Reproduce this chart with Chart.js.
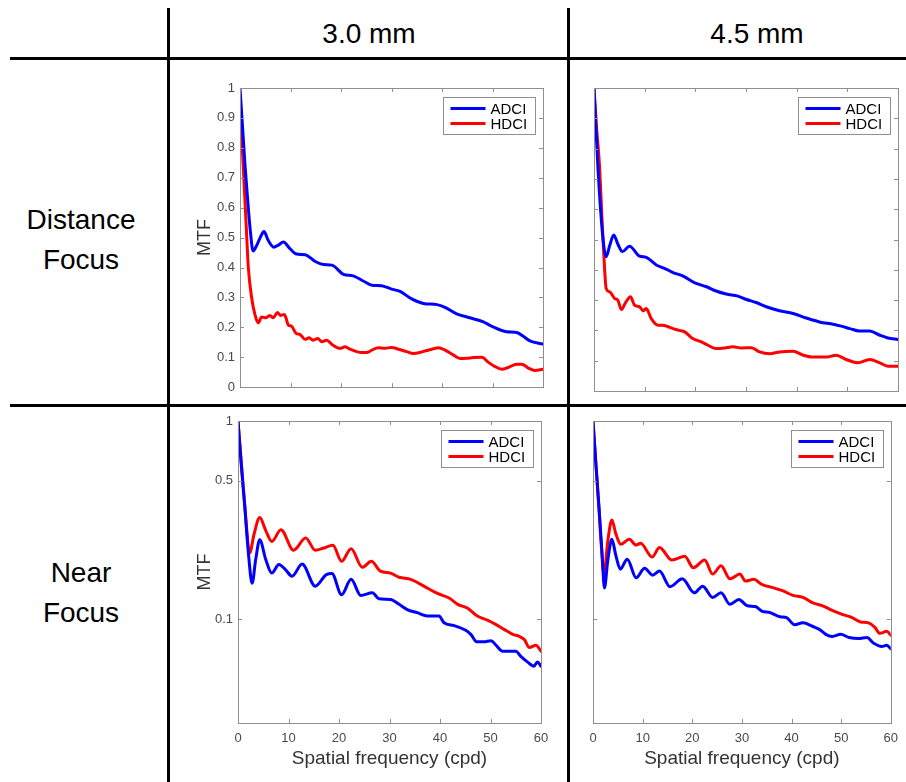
<!DOCTYPE html>
<html>
<head>
<meta charset="utf-8">
<script src="https://cdn.jsdelivr.net/npm/chart.js@4.4.0/dist/chart.umd.min.js"></script>
<style>
body { margin: 0; background: #fff; width: 906px; height: 782px; position: relative; overflow: hidden;
       font-family: "Liberation Sans", Arial, sans-serif; }
.rule { position: absolute; background: #000; }
.lbl { position: absolute; color: #000; text-align: center; font-size: 28px; line-height: 40px; }
canvas { position: absolute; }
</style>
</head>
<body>
<!-- table grid -->
<div class="rule" style="left:167px;top:8px;width:3px;height:774px"></div>
<div class="rule" style="left:567px;top:8px;width:3px;height:774px"></div>
<div class="rule" style="left:10px;top:57px;width:896px;height:3px"></div>
<div class="rule" style="left:10px;top:404px;width:896px;height:3px"></div>

<div class="lbl" style="left:170px;top:14px;width:398px">3.0 mm</div>
<div class="lbl" style="left:570px;top:14px;width:374px">4.5 mm</div>
<div class="lbl" style="left:0;top:200px;width:162px">Distance<br>Focus</div>
<div class="lbl" style="left:0;top:553px;width:162px">Near<br>Focus</div>

<canvas id="dist30" width="390" height="338" style="left:170px;top:62px"></canvas>
<canvas id="dist45" width="334" height="338" style="left:572px;top:62px"></canvas>
<canvas id="near30" width="390" height="374" style="left:170px;top:408px"></canvas>
<canvas id="near45" width="334" height="374" style="left:572px;top:408px"></canvas>

<script>
// ---- data ----
const SERIES = ['ADCI', 'HDCI'];
const X_TICKS = [0, 10, 20, 30, 40, 50, 60];
const LIN_TICKS = [0, 0.1, 0.2, 0.3, 0.4, 0.5, 0.6, 0.7, 0.8, 0.9, 1];
const LOG_TICKS = [0.1, 0.5, 1];

// Distance focus, 3.0 mm
const D30_ADCI_X = [0, 0.5, 1, 1.5, 2, 2.6, 3.2, 4, 4.75, 5.6, 6.7, 7.6, 8.6, 9.8, 11.2, 12.9, 14.9, 16.5, 18.2, 20.5, 22.4, 24.4, 26.1, 28, 30, 31.7, 34, 36.3, 39, 40.6, 42.9, 45.5, 48.2, 49.8, 52.8, 54.8, 56.1, 57.4, 60];
const D30_ADCI_Y = [1.0, 0.87, 0.74, 0.63, 0.53, 0.455, 0.47, 0.50, 0.52, 0.49, 0.468, 0.475, 0.485, 0.465, 0.445, 0.443, 0.42, 0.41, 0.408, 0.377, 0.372, 0.355, 0.341, 0.339, 0.328, 0.32, 0.295, 0.28, 0.276, 0.267, 0.245, 0.232, 0.218, 0.204, 0.185, 0.183, 0.17, 0.155, 0.144];
const D30_HDCI_X = [0, 0.66, 1.2, 1.65, 2.3, 3, 3.6, 4.3, 5.1, 5.9, 6.6, 7.4, 8, 8.8, 9.6, 10.2, 11.1, 11.9, 12.9, 13.7, 14.5, 15.4, 16.2, 17.2, 18.2, 19.8, 20.8, 21.8, 23.1, 24.1, 25.1, 26.1, 27.4, 28.7, 30, 31.4, 33, 34.3, 35.6, 36.6, 38, 39.3, 40.6, 42.2, 43.6, 44.9, 46.2, 47.9, 49.2, 50.5, 51.8, 53.1, 54.8, 55.8, 57.1, 58.4, 60];
const D30_HDCI_Y = [0.95, 0.73, 0.55, 0.40, 0.30, 0.24, 0.215, 0.235, 0.232, 0.24, 0.232, 0.25, 0.24, 0.243, 0.207, 0.204, 0.18, 0.176, 0.16, 0.165, 0.157, 0.163, 0.152, 0.157, 0.143, 0.13, 0.135, 0.127, 0.119, 0.116, 0.116, 0.124, 0.132, 0.13, 0.133, 0.127, 0.119, 0.113, 0.116, 0.121, 0.127, 0.132, 0.124, 0.108, 0.096, 0.097, 0.099, 0.1, 0.083, 0.069, 0.06, 0.066, 0.077, 0.077, 0.064, 0.056, 0.06];

// Distance focus, 4.5 mm
const D45_ADCI_X = [0, 0.8, 1.45, 2, 2.4, 3.1, 3.9, 4.7, 5.6, 7, 9, 10.3, 12.3, 13.9, 15.6, 17.6, 19.9, 22.2, 24.1, 26.1, 28.4, 30.1, 32, 34, 36.6, 39.3, 41.9, 44.5, 47.2, 48.8, 50.5, 52.4, 54.4, 56.4, 58, 60];
const D45_ADCI_Y = [1.0, 0.73, 0.565, 0.47, 0.443, 0.48, 0.515, 0.485, 0.46, 0.478, 0.445, 0.441, 0.416, 0.405, 0.391, 0.379, 0.357, 0.344, 0.33, 0.32, 0.313, 0.302, 0.292, 0.278, 0.265, 0.256, 0.241, 0.228, 0.22, 0.214, 0.206, 0.198, 0.198, 0.184, 0.175, 0.17];
const D45_HDCI_X = [0, 0.5, 1.1, 1.6, 2.1, 2.4, 3.1, 4.1, 4.7, 5.4, 6.2, 7.2, 8, 9, 9.7, 10.3, 11.3, 12.6, 13.6, 14.6, 15.6, 16.9, 17.9, 19.5, 21.2, 22.5, 24.1, 25.8, 27.4, 29.1, 31.1, 32.7, 34.7, 36.6, 39.3, 41.3, 43.2, 45.9, 47.8, 49.8, 52.1, 54.4, 56.4, 58, 60];
const D45_HDCI_Y = [1.0, 0.87, 0.74, 0.56, 0.40, 0.338, 0.327, 0.305, 0.3, 0.269, 0.291, 0.311, 0.283, 0.278, 0.265, 0.272, 0.239, 0.217, 0.217, 0.212, 0.206, 0.2, 0.195, 0.173, 0.162, 0.151, 0.14, 0.142, 0.146, 0.142, 0.143, 0.129, 0.123, 0.129, 0.131, 0.118, 0.112, 0.112, 0.118, 0.104, 0.093, 0.104, 0.093, 0.082, 0.082];

// Near focus, 3.0 mm (log axis)
const N30_ADCI_X = [0, 0.6, 1.3, 2.1, 2.8, 3.5, 4.3, 5.5, 6.7, 8.1, 9.4, 10.7, 12.7, 15.3, 17.5, 18.6, 20.5, 22.4, 24.3, 26.6, 27.9, 30.2, 31.9, 33.5, 35.5, 37.5, 39.8, 40.8, 42.8, 45.1, 46.1, 47.3, 48.7, 50.1, 51.1, 52.4, 53.7, 55, 56, 57.3, 58.6, 59.3, 60];
const N30_ADCI_Y = [1.0, 0.62, 0.38, 0.21, 0.152, 0.2, 0.252, 0.2, 0.171, 0.189, 0.178, 0.165, 0.19, 0.147, 0.168, 0.17, 0.133, 0.159, 0.132, 0.136, 0.127, 0.126, 0.119, 0.112, 0.108, 0.104, 0.104, 0.096, 0.093, 0.088, 0.084, 0.077, 0.077, 0.078, 0.074, 0.069, 0.069, 0.069, 0.065, 0.061, 0.058, 0.061, 0.058];
const N30_HDCI_X = [0, 0.7, 1.4, 2.3, 3.2, 4.3, 5.5, 6.7, 8.5, 11, 13.4, 15.3, 17, 18.8, 20.5, 22.4, 24.6, 26.4, 28.2, 30.2, 31.9, 34.2, 36.8, 39.5, 41.8, 43.5, 45.4, 47.4, 49.4, 51.1, 52.7, 54.4, 55.7, 56.7, 57.7, 59, 60];
const N30_HDCI_Y = [1.0, 0.6, 0.36, 0.216, 0.27, 0.326, 0.28, 0.247, 0.283, 0.223, 0.257, 0.223, 0.229, 0.236, 0.196, 0.227, 0.183, 0.196, 0.175, 0.171, 0.163, 0.159, 0.147, 0.135, 0.128, 0.119, 0.114, 0.104, 0.099, 0.094, 0.089, 0.084, 0.082, 0.079, 0.072, 0.074, 0.069];

// Near focus, 4.5 mm (log axis)
const N45_ADCI_X = [0, 0.6, 1.2, 1.85, 2.3, 3, 3.8, 4.6, 5.5, 6.9, 8.7, 10.4, 12, 13.4, 15.5, 18, 20.4, 22.1, 24.1, 25.8, 27.6, 29.4, 31.1, 32.7, 34, 35.7, 37.7, 39, 40.6, 42.3, 44.3, 45.6, 46.9, 48.2, 49.9, 51.6, 53.5, 55.2, 56.5, 58.2, 59.2, 60];
const N45_ADCI_Y = [1.0, 0.6, 0.37, 0.21, 0.144, 0.2, 0.253, 0.21, 0.179, 0.201, 0.162, 0.181, 0.167, 0.175, 0.146, 0.16, 0.136, 0.147, 0.129, 0.136, 0.119, 0.126, 0.117, 0.116, 0.11, 0.108, 0.103, 0.102, 0.094, 0.096, 0.092, 0.089, 0.084, 0.082, 0.084, 0.081, 0.08, 0.081, 0.076, 0.073, 0.074, 0.071];
const N45_HDCI_X = [0, 0.6, 1.2, 1.7, 2.2, 3, 3.8, 4.6, 5.6, 7.3, 8.7, 9.6, 11.9, 13.4, 15.9, 18.5, 20.2, 22.5, 24.1, 25.8, 27.6, 29.6, 30.7, 32.4, 34, 36.4, 38.3, 40.3, 42.3, 44.3, 46.3, 48.2, 50.2, 52.2, 53.9, 55.5, 56.8, 57.8, 59.2, 60];
const N45_HDCI_Y = [1.0, 0.6, 0.36, 0.23, 0.169, 0.25, 0.317, 0.27, 0.239, 0.253, 0.237, 0.242, 0.206, 0.23, 0.199, 0.208, 0.182, 0.199, 0.169, 0.186, 0.16, 0.169, 0.156, 0.159, 0.15, 0.144, 0.139, 0.132, 0.129, 0.121, 0.117, 0.111, 0.106, 0.102, 0.097, 0.096, 0.091, 0.085, 0.087, 0.083];

// ---- styling ----
const FONT = '"Liberation Sans", Arial, sans-serif';
const COLORS = ['#0000ff', '#ff0000'];
const BOX_COLOR = '#8f8f8f';
const TICK_TEXT = '#4a4a4a';

function pts(xs, ys) {
    return xs.map((x, i) => ({ x: x, y: ys[i] }));
}

// MATLAB-like box with inward tick marks + legend
const boxPlugin = {
    id: 'matlabBox',
    afterDatasetsDraw(chart) {
        const { ctx, chartArea: a, scales } = chart;
        const yTicks = chart.options.plugins.matlabBox.yTicks;
        const len = 4;
        ctx.save();
        ctx.strokeStyle = BOX_COLOR;
        ctx.lineWidth = 1;
        ctx.strokeRect(Math.round(a.left) + 0.5, Math.round(a.top) + 0.5,
                       Math.round(a.right - a.left), Math.round(a.bottom - a.top));
        ctx.beginPath();
        X_TICKS.forEach(v => {
            const px = Math.round(scales.x.getPixelForValue(v)) + 0.5;
            ctx.moveTo(px, a.bottom); ctx.lineTo(px, a.bottom - len);
            ctx.moveTo(px, a.top); ctx.lineTo(px, a.top + len);
        });
        yTicks.forEach(v => {
            const py = Math.round(scales.y.getPixelForValue(v)) + 0.5;
            ctx.moveTo(a.left, py); ctx.lineTo(a.left + len, py);
            ctx.moveTo(a.right, py); ctx.lineTo(a.right - len, py);
        });
        ctx.stroke();

        // legend box in the upper right corner
        const w = 92, h = 37;
        const lx = Math.round(a.right - 8 - w) + 0.5, ly = Math.round(a.top + 9) + 0.5;
        ctx.fillStyle = '#fff';
        ctx.fillRect(lx, ly, w, h);
        ctx.strokeStyle = BOX_COLOR;
        ctx.strokeRect(lx, ly, w, h);
        ctx.font = '15px ' + FONT;
        ctx.textBaseline = 'middle';
        chart.data.datasets.forEach((ds, i) => {
            const yy = ly + 11 + i * 15;
            ctx.strokeStyle = ds.borderColor;
            ctx.lineWidth = 3;
            ctx.beginPath();
            ctx.moveTo(lx + 7, yy); ctx.lineTo(lx + 42, yy);
            ctx.stroke();
            ctx.fillStyle = '#000';
            ctx.fillText(ds.label, lx + 47, yy + 1);
        });
        ctx.restore();
    }
};

function makePanel(id, sets, opt) {
    const logY = opt.log;
    const yTicks = logY ? LOG_TICKS : LIN_TICKS;
    return new Chart(document.getElementById(id), {
        type: 'line',
        data: {
            datasets: sets.map((s, i) => ({
                label: SERIES[i],
                data: s,
                borderColor: COLORS[i],
                borderWidth: 3,
                pointRadius: 0,
                tension: 0.4,
                cubicInterpolationMode: 'monotone',
                borderJoinStyle: 'round',
                borderCapStyle: 'round'
            }))
        },
        options: {
            responsive: false,
            animation: false,
            layout: { padding: { top: opt.padTop, right: opt.padRight, left: 0, bottom: 0 } },
            plugins: {
                legend: { display: false },
                tooltip: { enabled: false },
                matlabBox: { yTicks: yTicks }
            },
            scales: {
                x: {
                    type: 'linear', min: 0, max: 60,
                    grid: { display: false, drawTicks: false },
                    border: { display: false },
                    ticks: {
                        display: opt.xLabels, stepSize: 10, padding: 8, color: TICK_TEXT,
                        font: { family: FONT, size: 13 }, maxRotation: 0
                    },
                    title: {
                        display: opt.xLabels, text: 'Spatial frequency (cpd)', color: '#333',
                        font: { family: FONT, size: 19 }, padding: { top: 0, bottom: 12 }
                    },
                    afterFit: s => { s.height = opt.xHeight; }
                },
                y: {
                    type: logY ? 'logarithmic' : 'linear',
                    min: logY ? 0.03 : 0, max: 1,
                    grid: { display: false, drawTicks: false },
                    border: { display: false },
                    afterBuildTicks: s => { s.ticks = yTicks.map(v => ({ value: v })); },
                    ticks: {
                        display: opt.yLabels, padding: 5, color: TICK_TEXT,
                        font: { family: FONT, size: 13 },
                        callback: v => String(Number(v.toFixed(2)))
                    },
                    title: {
                        display: opt.yLabels, text: 'MTF', color: '#333',
                        font: { family: FONT, size: 18 }, padding: { top: 24, bottom: 0 }
                    },
                    afterFit: s => { s.width = opt.yWidth; }
                }
            }
        },
        plugins: [boxPlugin]
    });
}

makePanel('dist30', [pts(D30_ADCI_X, D30_ADCI_Y), pts(D30_HDCI_X, D30_HDCI_Y)],
    { log: false, xLabels: false, yLabels: true, padTop: 26, padRight: 17, xHeight: 9, yWidth: 70 });
makePanel('dist45', [pts(D45_ADCI_X, D45_ADCI_Y), pts(D45_HDCI_X, D45_HDCI_Y)],
    { log: false, xLabels: false, yLabels: false, padTop: 26, padRight: 8, xHeight: 9, yWidth: 22 });
makePanel('near30', [pts(N30_ADCI_X, N30_ADCI_Y), pts(N30_HDCI_X, N30_HDCI_Y)],
    { log: true, xLabels: true, yLabels: true, padTop: 13, padRight: 19, xHeight: 59, yWidth: 68 });
makePanel('near45', [pts(N45_ADCI_X, N45_ADCI_Y), pts(N45_HDCI_X, N45_HDCI_Y)],
    { log: true, xLabels: true, yLabels: false, padTop: 13, padRight: 10, xHeight: 59, yWidth: 21 });
</script>
</body>
</html>
